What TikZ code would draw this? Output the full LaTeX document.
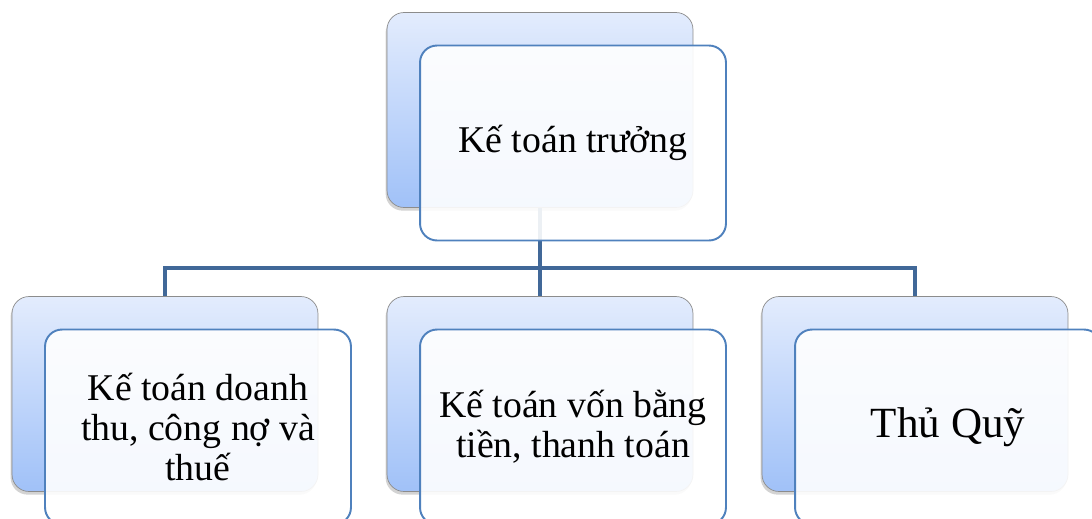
\documentclass[tikz,border=0pt]{standalone}
\usepackage{fontspec}
\setmainfont{Liberation Serif}
\usetikzlibrary{shadows}
\definecolor{linkblue}{RGB}{65,104,152}
\definecolor{edgeblue}{RGB}{79,129,189}
\definecolor{paleblue}{RGB}{227,236,253}
\definecolor{deepblue}{RGB}{160,193,248}

\begin{document}
\begin{tikzpicture}[x=0.02cm,y=-0.02cm]
      \tikzstyle{back}=[draw=gray!90, rounded corners=0.34cm, minimum width=6.12cm, minimum height=3.9cm, top color=paleblue, bottom color=deepblue, drop shadow={shadow xshift=-0.8pt, shadow yshift=-1.8pt, opacity=0.35}]
      \tikzstyle{front}=[draw=edgeblue, line width=1.1pt, rounded corners=0.34cm, minimum width=6.12cm, minimum height=3.9cm, fill=white, fill opacity=0.9, text opacity=1, align=center, font=\fontsize{21.5}{23}\selectfont]
      \tikzstyle{link}=[draw=linkblue, line width=2.8pt]
      \useasboundingbox (0,0) rectangle (1092,518);

      \foreach \name/\x/\y in {kt/540/110, dt/165/394, vb/540/394, tq/915/394}
        \node[back] (B-\name) at (\x,\y) {};

      \coordinate (bus) at (540,268);
      \draw[link] (B-kt.south) -- (bus);
      \foreach \to in {dt, vb, tq}
        \draw[link] (bus) -| (B-\to.north);

      \foreach \name/\txt/\x/\y in {kt/{Kế toán trưởng}/573/143, dt/{Kế toán doanh\\thu, công nợ và\\thuế}/198/427, vb/{Kế toán vốn bằng\\tiền, thanh toán}/573/427, tq/{\fontsize{24.5}{27}\selectfont Thủ Quỹ}/948/427}
        \node[front] (F-\name) at (\x,\y) {\txt};
    \end{tikzpicture}
\end{document}
